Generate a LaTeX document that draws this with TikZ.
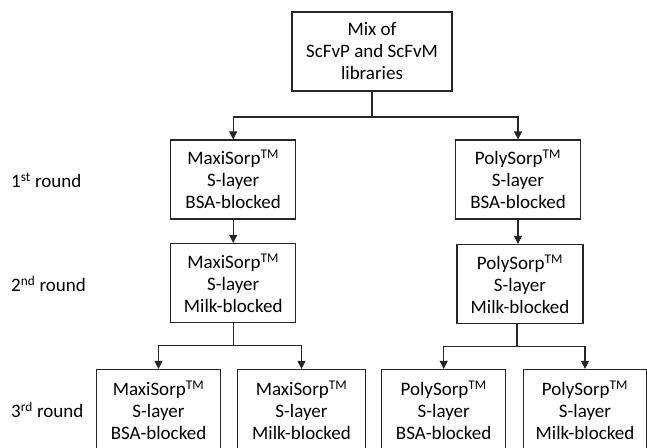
\documentclass[tikz,border=0pt]{standalone}
\usepackage{fontspec}
\setmainfont{Carlito}
\usetikzlibrary{arrows.meta}
\begin{document}
\begin{tikzpicture}[x=1pt,y=-1pt,
  box/.style={draw=black!85,line width=1.2pt,align=center,inner sep=0pt,
    font=\fontsize{19}{22}\selectfont,minimum height=79pt},
  lbl/.style={anchor=west,inner sep=0pt,font=\fontsize{19}{22}\selectfont},
  conn/.style={draw=black!85,line width=1.1pt},
  arr/.style={conn,-{Triangle[width=8pt,length=8pt]}}]
\useasboundingbox (0,0) rectangle (647,447);
\fill[white] (0,0) rectangle (647,447);
\newcommand{\tmk}{\textsuperscript{TM}}
% nodes
\node[box,minimum width=160pt] (top) at (372,51.5) {Mix of\\ScFvP and ScFvM\\libraries};
\node[box,minimum width=125pt] (m1) at (233.2,179.5) {MaxiSorp\tmk\\S-layer\\BSA-blocked};
\node[box,minimum width=125pt] (p1) at (518,179.5) {PolySorp\tmk\\S-layer\\BSA-blocked};
\node[box,minimum width=125pt] (m2) at (233.2,283) {MaxiSorp\tmk\\S-layer\\Milk-blocked};
\node[box,minimum width=126pt] (p2) at (520,284) {PolySorp\tmk\\S-layer\\Milk-blocked};
\node[box,minimum width=124pt,minimum height=81pt] (m3a) at (158.5,410) {MaxiSorp\tmk\\S-layer\\BSA-blocked};
\node[box,minimum width=128pt,minimum height=81pt] (m3b) at (301.5,410) {MaxiSorp\tmk\\S-layer\\Milk-blocked};
\node[box,minimum width=124pt,minimum height=81pt] (p3a) at (443.7,410) {PolySorp\tmk\\S-layer\\BSA-blocked};
\node[box,minimum width=123pt,minimum height=81pt] (p3b) at (585,410) {PolySorp\tmk\\S-layer\\Milk-blocked};
% labels
\node[lbl] (r1) at (11,180) {1\textsuperscript{st} round};
\node[lbl] (r2) at (11,284) {2\textsuperscript{nd} round};
\node[lbl] (r3) at (11,410) {3\textsuperscript{rd} round};
% connectors
\coordinate (j0) at (372,117);
\coordinate (j1) at (232,345.5);
\coordinate (j2) at (517,346.5);
\draw[conn] (top.south) -- (j0);
\draw[arr] (j0) -| (m1.north);
\draw[arr] (j0) -| (p1.north);
\draw[arr] (m1.south) -- (m1.south |- m2.north);
\draw[arr] (p1.south) -- (p1.south |- p2.north);
\draw[conn] (m2.south) -- (m2.south |- j1);
\draw[arr] (m2.south |- j1) -| (m3a.north);
\draw[arr] (m2.south |- j1) -| (m3b.north);
\draw[conn] (p2.south -| j2) -- (j2);
\draw[arr] (j2) -| (p3a.north);
\draw[arr] (j2) -| (p3b.north);
\end{tikzpicture}
\end{document}
